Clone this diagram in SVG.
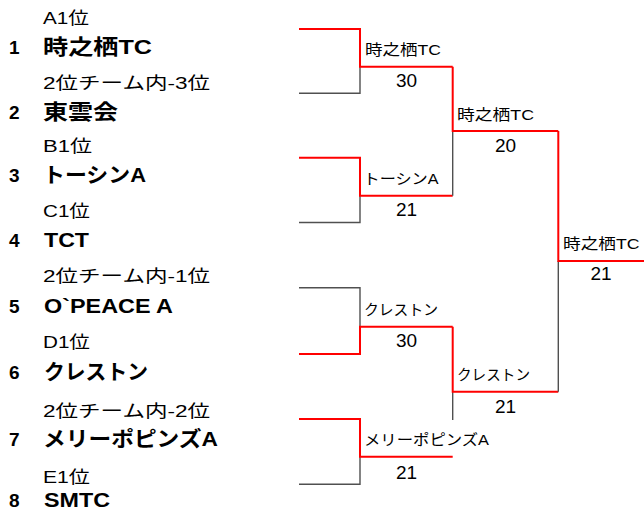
<svg xmlns="http://www.w3.org/2000/svg" width="644" height="511" viewBox="0 0 644 511">
<style>
text{font-family:"Liberation Sans","Noto Sans CJK JP",sans-serif;fill:#000}
.sm{font-size:17px}
.tm{font-size:21px;font-weight:bold}
.num{font-size:19px;font-weight:bold}
.lb{font-size:15px}
.sc{font-size:19px;text-anchor:middle}
.win{fill:none;stroke:#ff0000;stroke-width:2}
.los{fill:none;stroke:#505050;stroke-width:1.4}
</style>
<rect width="644" height="511" fill="#fff"/>
<g id="connectors">
<polyline class="los" points="299,93.3 360,93.3 360,66.7"/>
<polyline class="win" points="299,29 360,29 360,66.7 452.7,66.7"/>
<polyline class="los" points="299,222.5 360,222.5 360,195.7"/>
<polyline class="win" points="299,157.7 360,157.7 360,195.7 452.7,195.7"/>
<polyline class="los" points="299,287.7 360,287.7 360,326.7"/>
<polyline class="win" points="299,354 360,354 360,326.7 452.7,326.7"/>
<polyline class="los" points="299,484.3 360,484.3 360,456.7"/>
<polyline class="win" points="299,419 360,419 360,456.7 452.7,456.7"/>
<polyline class="los" points="452.7,195.7 452.7,131"/>
<polyline class="win" points="452.7,66.7 452.7,131 558.3,131"/>
<polyline class="los" points="452.7,420 452.7,391.7"/>
<polyline class="win" points="452.7,326.7 452.7,391.7 558.3,391.7"/>
<polyline class="los" points="558.3,391.7 558.3,261"/>
<polyline class="win" points="558.3,131 558.3,261 644,261"/>
</g>
<g id="team1">
<text class="sm" x="43" y="24" textLength="46" lengthAdjust="spacingAndGlyphs">A1位</text>
<text class="num" x="9" y="53.5">1</text>
<text class="tm" x="43" y="53.5" textLength="109" lengthAdjust="spacingAndGlyphs">時之栖TC</text>
</g>
<g id="team2">
<text class="sm" x="43" y="89" textLength="167" lengthAdjust="spacingAndGlyphs">2位チーム内-3位</text>
<text class="num" x="9" y="119">2</text>
<text class="tm" x="43" y="119" textLength="75" lengthAdjust="spacingAndGlyphs">東雲会</text>
</g>
<g id="team3">
<text class="sm" x="43" y="152" textLength="49" lengthAdjust="spacingAndGlyphs">B1位</text>
<text class="num" x="9" y="182">3</text>
<text class="tm" x="43" y="182" textLength="103" lengthAdjust="spacingAndGlyphs">トーシンA</text>
</g>
<g id="team4">
<text class="sm" x="43" y="217" textLength="47" lengthAdjust="spacingAndGlyphs">C1位</text>
<text class="num" x="9" y="247">4</text>
<text class="tm" x="44" y="247" textLength="45" lengthAdjust="spacingAndGlyphs">TCT</text>
</g>
<g id="team5">
<text class="sm" x="43" y="282" textLength="167" lengthAdjust="spacingAndGlyphs">2位チーム内-1位</text>
<text class="num" x="9" y="313">5</text>
<text class="tm" x="44" y="313" textLength="129" lengthAdjust="spacingAndGlyphs">O`PEACE A</text>
</g>
<g id="team6">
<text class="sm" x="43" y="348" textLength="47" lengthAdjust="spacingAndGlyphs">D1位</text>
<text class="num" x="9" y="379">6</text>
<text class="tm" x="44" y="379" textLength="104" lengthAdjust="spacingAndGlyphs">クレストン</text>
</g>
<g id="team7">
<text class="sm" x="43" y="417" textLength="167" lengthAdjust="spacingAndGlyphs">2位チーム内-2位</text>
<text class="num" x="9" y="446">7</text>
<text class="tm" x="43" y="446" textLength="175" lengthAdjust="spacingAndGlyphs">メリーポピンズA</text>
</g>
<g id="team8">
<text class="sm" x="43" y="483" textLength="47" lengthAdjust="spacingAndGlyphs">E1位</text>
<text class="num" x="9" y="507">8</text>
<text class="tm" x="44" y="507" textLength="66" lengthAdjust="spacingAndGlyphs">SMTC</text>
</g>
<g id="match1">
<text class="lb" x="365" y="55" textLength="76" lengthAdjust="spacingAndGlyphs">時之栖TC</text>
<text class="sc" x="406.5" y="87">30</text>
</g>
<g id="match2">
<text class="lb" x="363.5" y="184" textLength="75" lengthAdjust="spacingAndGlyphs">トーシンA</text>
<text class="sc" x="406.5" y="216">21</text>
</g>
<g id="match3">
<text class="lb" x="364" y="315" textLength="74" lengthAdjust="spacingAndGlyphs">クレストン</text>
<text class="sc" x="406.5" y="347">30</text>
</g>
<g id="match4">
<text class="lb" x="364" y="445" textLength="125" lengthAdjust="spacingAndGlyphs">メリーポピンズA</text>
<text class="sc" x="406.5" y="479">21</text>
</g>
<g id="semi1">
<text class="lb" x="457" y="120" textLength="77" lengthAdjust="spacingAndGlyphs">時之栖TC</text>
<text class="sc" x="505.5" y="151.5">20</text>
</g>
<g id="semi2">
<text class="lb" x="457" y="380" textLength="73" lengthAdjust="spacingAndGlyphs">クレストン</text>
<text class="sc" x="505.5" y="413">21</text>
</g>
<g id="final">
<text class="lb" x="563" y="249" textLength="76.5" lengthAdjust="spacingAndGlyphs">時之栖TC</text>
<text class="sc" x="601" y="280">21</text>
</g>
</svg>
